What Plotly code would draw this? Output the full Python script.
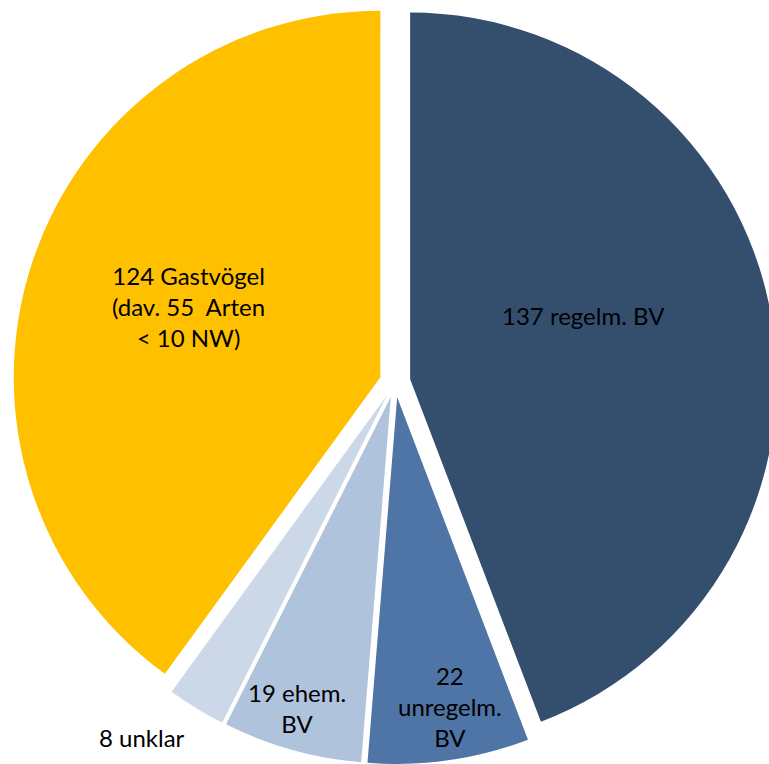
import plotly.graph_objects as go

# Vogelarten nach Status
labels = ["137 regelm. BV", "22<br>unregelm.<br>BV", "19 ehem.<br>BV", "8 unklar",
          "124 Gastvögel<br>(dav. 55  Arten<br>< 10 NW)"]
values = [137, 22, 19, 8, 124]
colors = ["#344F6E", "#4E75A5", "#B0C3DC", "#CCD8E8", "#FFC000"]

# Lage der Beschriftungen (Pixel im Fenster)
label_pos = [(583, 315), (450, 706), (297, 708), (142, 737), (188, 306)]

W, H = 790, 764

fig = go.Figure(go.Pie(
    values=values,
    labels=labels,
    sort=False,
    direction="clockwise",
    rotation=0,
    pull=[0.042] * len(values),
    marker=dict(colors=colors, line=dict(color="white", width=0)),
    textinfo="none",
    hoverinfo="label+value",
    domain=dict(x=[13 / W, 777 / W], y=[0, 1]),
    showlegend=False,
))

for txt, (px, py) in zip(labels, label_pos):
    fig.add_annotation(
        x=px / W, y=1 - py / H, xref="paper", yref="paper",
        xanchor="center", yanchor="middle",
        text=txt, showarrow=False,
        font=dict(family="Lato", size=24, color="black"),
        align="center",
    )

fig.update_layout(
    width=W, height=H,
    margin=dict(l=0, r=0, t=0, b=0),
    paper_bgcolor="white",
    plot_bgcolor="white",
)

# Seitenrand des Browsers entfernen
fig.write_html("out.html", config={"displayModeBar": False},
               post_script="document.body.style.margin='0';")
